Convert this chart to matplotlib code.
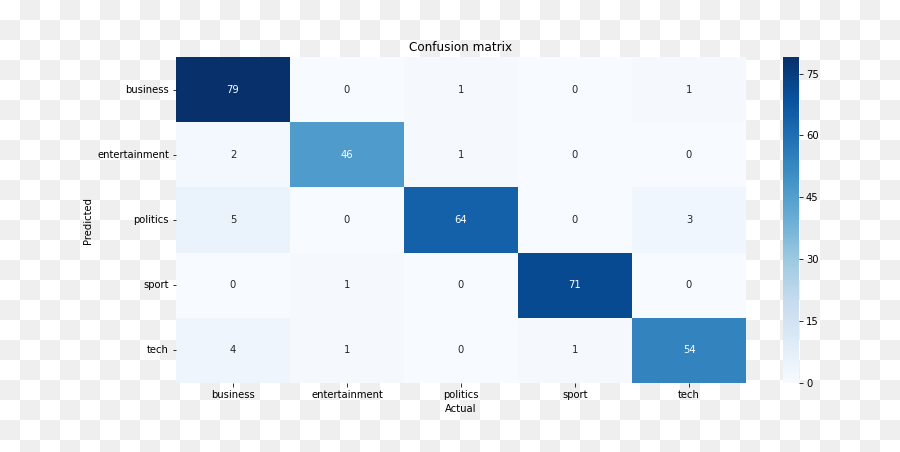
import numpy as np
import matplotlib
matplotlib.use('Agg')
import matplotlib.pyplot as plt
import seaborn as sns

# confusion matrix values (rows: predicted, cols: actual)
labels = ['business', 'entertainment', 'politics', 'sport', 'tech']
business = [79, 0, 1, 0, 1]
entertainment = [2, 46, 1, 0, 0]
politics = [5, 0, 64, 0, 3]
sport = [0, 1, 0, 71, 0]
tech = [4, 1, 0, 1, 54]
cbar_ticks = [0, 15, 30, 45, 60, 75]

cm = np.array([business, entertainment, politics, sport, tech])

W, H = 900, 452
fig = plt.figure(figsize=(W / 72, H / 72), dpi=72)

# transparent-style checkerboard background
rr, cc = np.mgrid[0:H, 0:W]
chk = ((rr // 20 + cc // 20) % 2).astype(float)
bg = np.ones((H, W, 3))
bg[chk == 1] = 0.94
fig.figimage(bg, xo=0, yo=0, origin='upper', zorder=-10)
fig.patch.set_alpha(0)

ax = fig.add_axes([176 / W, 69 / H, 570 / W, 326 / H])
cax = fig.add_axes([783 / W, 69 / H, 16 / W, 326 / H])

sns.heatmap(cm, annot=True, fmt='d', cmap='Blues', ax=ax, cbar_ax=cax,
            xticklabels=labels, yticklabels=labels,
            cbar_kws={'ticks': cbar_ticks})
ax.set_yticklabels(labels, rotation=0)
ax.set_title('Confusion matrix')
ax.set_xlabel('Actual')
ax.set_ylabel('Predicted')
for a in (ax, cax):
    a.patch.set_alpha(0)

fig.savefig('out.png', dpi=72)
